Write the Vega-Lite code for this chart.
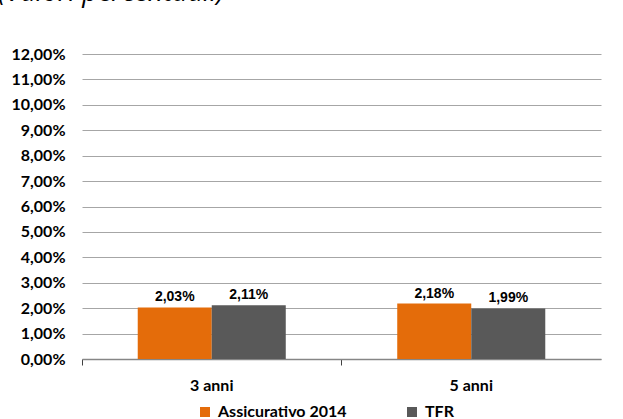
{
  "$schema": "https://vega.github.io/schema/vega-lite/v6.json",
  "autosize": "none",
  "width": 519,
  "height": 305,
  "padding": {"left": 82, "top": 54, "right": 22, "bottom": 60},
  "background": "white",
  "config": {
    "view": {"stroke": null},
    "locale": {"number": {"decimal": ",", "thousands": ".", "grouping": [3], "currency": ["€", ""]}}
  },
  "title": {
    "text": "(Valori percentuali)",
    "anchor": "start",
    "orient": "top",
    "frame": "group",
    "dx": -84,
    "dy": 12,
    "offset": 30,
    "baseline": "alphabetic",
    "font": "Open Sans",
    "fontSize": 27,
    "fontStyle": "italic",
    "fontWeight": "normal",
    "color": "#000000"
  },
  "data": {
    "values": [
      {"periodo": "3 anni", "serie": "Assicurativo 2014", "valore": 0.0203},
      {"periodo": "3 anni", "serie": "TFR", "valore": 0.0211},
      {"periodo": "5 anni", "serie": "Assicurativo 2014", "valore": 0.0218},
      {"periodo": "5 anni", "serie": "TFR", "valore": 0.0199}
    ]
  },
  "encoding": {
    "x": {
      "field": "periodo",
      "type": "nominal",
      "scale": {"paddingInner": 0, "paddingOuter": 0},
      "axis": {
        "title": null,
        "labelAngle": 0,
        "bandPosition": 0,
        "labelFont": "Lato",
        "labelFontWeight": "bold",
        "labelFontSize": 16,
        "labelColor": "#000000",
        "labelPadding": 12,
        "labelBaseline": "top",
        "domainColor": "#868686",
        "domainWidth": 1.5,
        "tickColor": "#404040",
        "tickSize": 6,
        "tickWidth": 1
      }
    },
    "xOffset": {
      "field": "serie",
      "type": "nominal",
      "scale": {"paddingInner": 0, "paddingOuter": 0.753}
    },
    "y": {
      "field": "valore",
      "type": "quantitative",
      "scale": {"domain": [0, 0.12], "nice": false},
      "axis": {
        "title": null,
        "values": [0, 0.01, 0.02, 0.03, 0.04, 0.05, 0.06, 0.07, 0.08, 0.09, 0.1, 0.11, 0.12],
        "format": ".2%",
        "domain": false,
        "ticks": false,
        "labelPadding": 17,
        "labelFont": "Lato",
        "labelFontWeight": "bold",
        "labelFontSize": 16,
        "labelColor": "#000000",
        "gridColor": "#a6a6a6",
        "gridWidth": 1
      }
    }
  },
  "layer": [
    {
      "mark": {"type": "bar", "stroke": null},
      "encoding": {
        "color": {
          "field": "serie",
          "type": "nominal",
          "scale": {"domain": ["Assicurativo 2014", "TFR"], "range": ["#E46C0A", "#595959"]},
          "legend": {
            "title": null,
            "orient": "none",
            "direction": "horizontal",
            "legendX": 115,
            "legendY": 350,
            "symbolType": "square",
            "symbolSize": 100,
            "symbolStrokeWidth": 0,
            "labelFont": "Lato",
            "labelFontWeight": "bold",
            "labelFontSize": 16,
            "labelColor": "#000000",
            "labelOffset": 5,
            "columnPadding": 57
          }
        }
      }
    },
    {
      "mark": {
        "type": "text",
        "baseline": "alphabetic",
        "dy": -6,
        "font": "Liberation Sans",
        "fontWeight": "bold",
        "fontSize": 14,
        "color": "#000000"
      },
      "encoding": {
        "text": {"field": "valore", "type": "quantitative", "format": ".2%"}
      }
    }
  ]
}
